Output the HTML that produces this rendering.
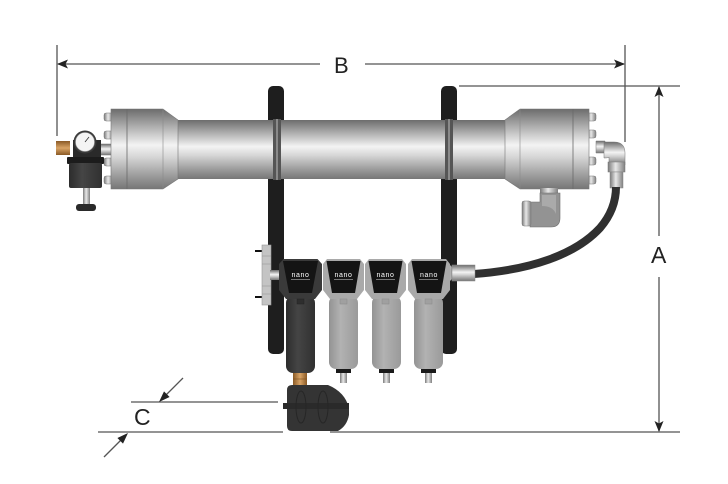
<!DOCTYPE html>
<html><head><meta charset="utf-8"><style>
html,body{margin:0;padding:0;background:#fff;}
svg{display:block;}
text{font-family:"Liberation Sans",sans-serif;}
</style></head><body>
<svg width="728" height="484" viewBox="0 0 728 484" xmlns="http://www.w3.org/2000/svg">
<defs>
 <linearGradient id="pg" x1="0" y1="0" x2="0" y2="1">
  <stop offset="0" stop-color="#6c6c6c"/>
  <stop offset="0.18" stop-color="#a2a2a2"/>
  <stop offset="0.45" stop-color="#f3f3f3"/>
  <stop offset="0.6" stop-color="#d6d6d6"/>
  <stop offset="0.85" stop-color="#989898"/>
  <stop offset="1" stop-color="#767676"/>
 </linearGradient>
 <linearGradient id="vg" x1="0" y1="0" x2="1" y2="0">
  <stop offset="0" stop-color="#7a7a7a"/>
  <stop offset="0.45" stop-color="#e8e8e8"/>
  <stop offset="1" stop-color="#808080"/>
 </linearGradient>
 <linearGradient id="fg" x1="0" y1="0" x2="1" y2="0">
  <stop offset="0" stop-color="#939393"/>
  <stop offset="0.4" stop-color="#b2b2b2"/>
  <stop offset="1" stop-color="#9a9a9a"/>
 </linearGradient>
 <linearGradient id="dg" x1="0" y1="0" x2="1" y2="0">
  <stop offset="0" stop-color="#2c2c2c"/>
  <stop offset="0.4" stop-color="#454545"/>
  <stop offset="1" stop-color="#303030"/>
 </linearGradient>
 <linearGradient id="brass" x1="0" y1="0" x2="0" y2="1">
  <stop offset="0" stop-color="#8a5a26"/>
  <stop offset="0.5" stop-color="#d9a466"/>
  <stop offset="1" stop-color="#8a5a26"/>
 </linearGradient>
 <linearGradient id="brassv" x1="0" y1="0" x2="1" y2="0">
  <stop offset="0" stop-color="#8a5a26"/>
  <stop offset="0.5" stop-color="#d9a466"/>
  <stop offset="1" stop-color="#8a5a26"/>
 </linearGradient>
</defs>

<g stroke="#555" stroke-width="1.3" fill="none">
 <line x1="57" y1="45" x2="57" y2="136"/>
 <line x1="625" y1="45" x2="625" y2="142"/>
 <line x1="58" y1="64" x2="320" y2="64"/>
 <line x1="365" y1="64" x2="624" y2="64"/>
 <line x1="459" y1="86" x2="680" y2="86"/>
 <line x1="659" y1="87" x2="659" y2="236"/>
 <line x1="659" y1="277" x2="659" y2="431"/>
 <line x1="330" y1="432" x2="680" y2="432"/>
 <line x1="98" y1="432" x2="283" y2="432"/>
 <line x1="131" y1="402" x2="278" y2="402"/>
 <line x1="183" y1="378" x2="165" y2="396"/>
 <line x1="104" y1="457" x2="122" y2="439"/>
</g>
<g fill="#222">
 <polygon points="57,64 68,59.5 65.5,64 68,68.5"/>
 <polygon points="625,64 614,59.5 616.5,64 614,68.5"/>
 <polygon points="659,86 654.5,97 659,94.5 663.5,97"/>
 <polygon points="659,432 654.5,421 659,423.5 663.5,421"/>
 <polygon points="159,402 169.6,397 164,391.4"/>
 <polygon points="128,433 123,443.6 117.4,438"/>
</g>
<text x="334" y="73" font-size="22" fill="#222">B</text>
<text x="651" y="263" font-size="23" fill="#222">A</text>
<text x="134" y="425" font-size="23" fill="#222">C</text>

<rect x="268" y="86" width="16" height="268" rx="5" fill="#1e1e1e"/>
<rect x="441" y="86" width="16" height="268" rx="5" fill="#1e1e1e"/>

<g fill="url(#vg)" stroke="#777" stroke-width="0.5">
 <rect x="104" y="113" width="9" height="8" rx="2"/>
 <rect x="104" y="131" width="9" height="8" rx="2"/>
 <rect x="104" y="158" width="9" height="8" rx="2"/>
 <rect x="104" y="176" width="9" height="8" rx="2"/>
 <rect x="98" y="144" width="14" height="11" fill="url(#pg)"/>
</g>
<g fill="url(#vg)" stroke="#777" stroke-width="0.5">
 <rect x="587" y="113" width="9" height="8" rx="2"/>
 <rect x="587" y="130" width="9" height="8" rx="2"/>
 <rect x="587" y="157" width="9" height="8" rx="2"/>
 <rect x="587" y="176" width="9" height="8" rx="2"/>
</g>

<rect x="175" y="120" width="335" height="59" fill="url(#pg)"/>
<path d="M111,109 H163 L178,120 V179 L163,189 H111 Z" fill="url(#pg)" stroke="#777" stroke-width="0.6"/>
<line x1="127" y1="109" x2="127" y2="189" stroke="#6a6a6a" stroke-width="0.8"/>
<line x1="163" y1="109" x2="163" y2="189" stroke="#8a8a8a" stroke-width="0.6"/>
<path d="M505,120 L520,109 H589 V189 H520 L505,179 Z" fill="url(#pg)" stroke="#777" stroke-width="0.6"/>
<line x1="520" y1="109" x2="520" y2="189" stroke="#8a8a8a" stroke-width="0.6"/>
<line x1="573" y1="109" x2="573" y2="189" stroke="#6a6a6a" stroke-width="0.8"/>

<rect x="273" y="119" width="8" height="61" fill="#555"/>
<rect x="276" y="119" width="2" height="61" fill="#8a8a8a"/>
<rect x="445" y="119" width="8" height="61" fill="#555"/>
<rect x="448" y="119" width="2" height="61" fill="#8a8a8a"/>

<rect x="56" y="141" width="14" height="14" fill="url(#brass)"/>
<rect x="73" y="140" width="28" height="20" fill="#2a2a2a"/>
<circle cx="85" cy="142" r="11.5" fill="#3a3a3a"/>
<circle cx="85" cy="142" r="9.5" fill="#f4f4f4" stroke="#999" stroke-width="0.6"/>
<line x1="85" y1="142" x2="89" y2="137" stroke="#333" stroke-width="0.8"/>
<rect x="67" y="157" width="37" height="7" rx="1" fill="#1c1c1c"/>
<rect x="69" y="163" width="33" height="25" rx="2" fill="url(#dg)"/>
<rect x="83" y="188" width="7" height="17" fill="url(#vg)"/>
<rect x="76" y="204" width="20" height="7" rx="3" fill="#2a2a2a"/>

<path d="M596,141 H605 V153 H596 Z" fill="url(#pg)" stroke="#777" stroke-width="0.5"/>
<path d="M604,142 H614 Q625,142 625,153 V165 H609 V157 Q609,158 604,158 Z" fill="url(#pg)" stroke="#777" stroke-width="0.5"/>
<rect x="608" y="162" width="17" height="10" fill="url(#vg)" stroke="#777" stroke-width="0.5"/>
<rect x="610" y="172" width="13" height="16" fill="url(#vg)" stroke="#888" stroke-width="0.5"/>

<rect x="540" y="188" width="18" height="6" fill="url(#vg)"/>
<path d="M540,193 H560 V218 Q560,227 551,227 H530 V202 H540 Z" fill="#939393" stroke="#6e6e6e" stroke-width="0.6"/>
<path d="M542,195 H556 V214 Q553,206 542,206 Z" fill="#aaaaaa"/>
<rect x="522" y="201" width="9" height="25" rx="2" fill="url(#vg)" stroke="#777" stroke-width="0.5"/>

<path d="M474,274 C530,270 575,255 600,228 C612,214 616,200 616,187" fill="none" stroke="#303030" stroke-width="8"/>

<line x1="255" y1="251" x2="263" y2="251" stroke="#111" stroke-width="2"/>
<line x1="255" y1="297" x2="263" y2="297" stroke="#111" stroke-width="2"/>
<rect x="262" y="245" width="9" height="60" fill="#c4c4c4" stroke="#999" stroke-width="0.6"/>
<g stroke="#999" stroke-width="0.6">
 <line x1="262" y1="256" x2="271" y2="256"/>
 <line x1="262" y1="264" x2="271" y2="264"/>
 <line x1="262" y1="286" x2="271" y2="286"/>
 <line x1="262" y1="294" x2="271" y2="294"/>
</g>
<rect x="270" y="270" width="12" height="10" fill="url(#pg)"/>

<path d="M443,268 L448,263 L453,268 V278 L448,283 L443,278 Z" fill="url(#vg)" stroke="#666" stroke-width="0.5"/>
<rect x="452" y="265" width="23" height="16" fill="url(#pg)" stroke="#888" stroke-width="0.5"/>

<g>
 <rect x="286" y="296" width="29" height="77" rx="7" fill="url(#dg)"/>
 <path d="M283.5,259 H317.5 L322,264 V290 L315,299 H286 L279,290 V264 Z" fill="#3a3a3a"/>
 <path d="M283,261 H318 L312,293 H289 Z" fill="#141414"/>
 <text x="300.5" y="277" font-size="7" fill="#fff" text-anchor="middle" letter-spacing="0.6">nano</text>
 <rect x="291" y="279" width="19" height="1" fill="#777"/>
 <rect x="297" y="299" width="7" height="5" fill="#2e2e2e" stroke="#222" stroke-width="0.5"/>
 <rect x="293" y="373" width="14" height="12" fill="url(#brassv)"/>
 <line x1="293" y1="379" x2="307" y2="379" stroke="#7a4e1e" stroke-width="0.6"/>
</g>

<g>
 <rect x="329" y="296" width="29" height="73" rx="7" fill="url(#fg)"/>
 <path d="M327,259 H360 L364,264 V290 L357,299 H330 L323,290 V264 Z" fill="#a9a9a9"/>
 <path d="M326.5,261 H360.5 L355,293 H332 Z" fill="#141414"/>
 <text x="343.5" y="277" font-size="7" fill="#fff" text-anchor="middle" letter-spacing="0.6">nano</text>
 <rect x="334" y="279" width="19" height="1" fill="#777"/>
 <rect x="340" y="299" width="7" height="5" fill="#a0a0a0" stroke="#888" stroke-width="0.5"/>
 <rect x="336" y="369" width="15" height="4" fill="#1a1a1a"/>
 <rect x="340" y="373" width="7" height="10" fill="url(#vg)"/>
</g>
<g>
 <rect x="372" y="296" width="29" height="73" rx="7" fill="url(#fg)"/>
 <path d="M369,259 H402 L406,264 V290 L399,299 H372 L365,290 V264 Z" fill="#a9a9a9"/>
 <path d="M368.5,261 H402.5 L397,293 H374 Z" fill="#141414"/>
 <text x="385.5" y="277" font-size="7" fill="#fff" text-anchor="middle" letter-spacing="0.6">nano</text>
 <rect x="376" y="279" width="19" height="1" fill="#777"/>
 <rect x="382" y="299" width="7" height="5" fill="#a0a0a0" stroke="#888" stroke-width="0.5"/>
 <rect x="379" y="369" width="15" height="4" fill="#1a1a1a"/>
 <rect x="383" y="373" width="7" height="10" fill="url(#vg)"/>
</g>
<g>
 <rect x="414" y="296" width="29" height="73" rx="7" fill="url(#fg)"/>
 <path d="M412,259 H446 L450,264 V290 L443,299 H415 L408,290 V264 Z" fill="#a9a9a9"/>
 <path d="M411.5,261 H446.5 L441,293 H417 Z" fill="#141414"/>
 <text x="429" y="277" font-size="7" fill="#fff" text-anchor="middle" letter-spacing="0.6">nano</text>
 <rect x="419" y="279" width="19" height="1" fill="#777"/>
 <rect x="425" y="299" width="7" height="5" fill="#a0a0a0" stroke="#888" stroke-width="0.5"/>
 <rect x="421" y="369" width="15" height="4" fill="#1a1a1a"/>
 <rect x="425" y="373" width="7" height="10" fill="url(#vg)"/>
</g>

<path d="M287,390 Q287,385 292,385 H328 Q345,392 349,408 V415 Q347,426 338,431 H292 Q287,431 287,426 Z" fill="#343434"/>
<rect x="283" y="403" width="66" height="6" fill="#2a2a2a"/>
<g fill="none" stroke="#262626" stroke-width="1">
 <ellipse cx="301" cy="407" rx="5" ry="16"/>
 <ellipse cx="323" cy="407" rx="5" ry="16"/>
</g>
</svg>
</body></html>
